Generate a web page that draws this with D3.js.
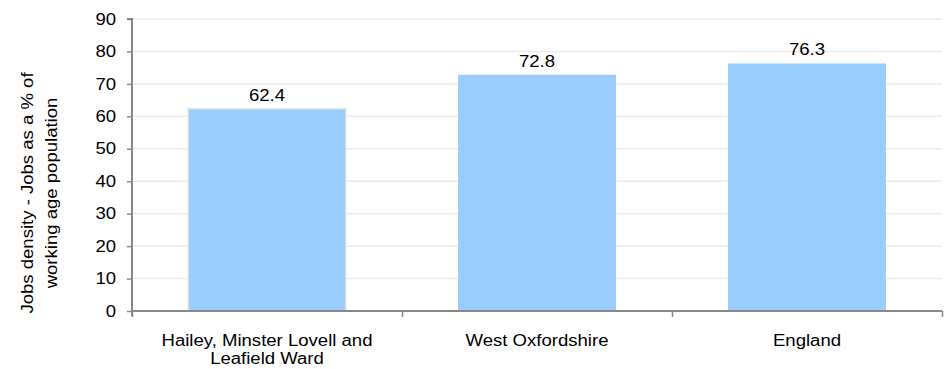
<!DOCTYPE html>
<html><head><meta charset="utf-8">
<script src="https://cdn.jsdelivr.net/npm/d3@7"></script>
<style>body{margin:0;background:#fff}svg{display:block;font-family:"Liberation Sans",Arial,sans-serif}</style>
</head><body><svg id="c" width="944" height="369"></svg>
<script>
const categories = [["Hailey, Minster Lovell and","Leafield Ward"],["West Oxfordshire"],["England"]];
const values = [62.4, 72.8, 76.3];
const yTicks = [0,10,20,30,40,50,60,70,80,90];
const yTitle = ["Jobs density - Jobs as a % of","working age population"];

(function(){
const svg = d3.select("#c");
const FS = 16, SX = 1.16;
const mL = 132, mR = 942, mT = 19, mB = 311;
const x = d3.scaleBand().domain(d3.range(values.length)).range([mL, mR]).paddingInner(0.415).paddingOuter(0.2075);
const y = d3.scaleLinear().domain([0, 90]).range([mB, mT]);

svg.append("g").selectAll("line").data(yTicks.filter(d=>d>0)).join("line")
  .attr("x1", mL).attr("x2", mR).attr("y1", d=>y(d)).attr("y2", d=>y(d))
  .attr("stroke", "#ebebeb").attr("stroke-width", 1.5);

svg.append("g").selectAll("rect").data(values).join("rect")
  .attr("x", (d,i)=>x(i)).attr("width", x.bandwidth())
  .attr("y", d=>y(d)).attr("height", d=>mB - y(d))
  .attr("fill", "#99ccff")
  .attr("stroke", (d,i)=> i===0 ? "#e8ecdc" : "none").attr("stroke-width", 1.5);

svg.append("g").selectAll("text").data(values).join("text")
  .attr("transform", (d,i)=>`translate(${x(i)+x.bandwidth()/2},${y(d)-8}) scale(${SX},1)`)
  .attr("text-anchor","middle").attr("font-size", FS).attr("fill","#000")
  .text(d=>d.toFixed(1));

const ya = svg.append("g").attr("transform", `translate(${mL},0)`)
  .call(d3.axisLeft(y).tickValues(yTicks).tickSize(5).tickPadding(11));
ya.attr("font-size", FS).attr("font-family", null);
ya.select(".domain").attr("stroke","#888").attr("stroke-width",2).attr("d", `M-5,${mT}H0V${mB+5}`);
ya.selectAll(".tick line").attr("stroke","#888").attr("stroke-width",1.5);
ya.selectAll(".tick text").attr("fill","#000").attr("x", -16/SX).attr("transform", `scale(${SX},1)`);

const xb = d3.scaleLinear().domain([0, values.length]).range([mL, mR]);
const xa = svg.append("g").attr("transform", `translate(0,${mB})`)
  .call(d3.axisBottom(xb).tickValues(d3.range(values.length+1)).tickSize(6).tickFormat(""));
xa.select(".domain").attr("stroke","#888").attr("stroke-width",2).attr("d", `M${mL},0H${mR}`);
xa.selectAll(".tick line").attr("stroke","#888").attr("stroke-width",1.5);

const cl = svg.append("g").selectAll("text").data(categories).join("text")
  .attr("text-anchor","middle").attr("font-size",FS).attr("fill","#000")
  .attr("transform", (d,i)=>`translate(${x(i)+x.bandwidth()/2},346) scale(${SX},1)`);
cl.selectAll("tspan").data(d=>d).join("tspan")
  .attr("x", 0).attr("dy", (d,i)=> i===0 ? 0 : 18).text(d=>d);

const yt = svg.append("text").attr("transform", `translate(33,193) rotate(-90) scale(${SX},1)`)
  .attr("text-anchor","middle").attr("font-size",FS).attr("fill","#000");
yt.selectAll("tspan").data(yTitle).join("tspan").attr("x",0).attr("dy",(d,i)=> i===0 ? 0 : 24).text(d=>d);
})();
</script></body></html>
